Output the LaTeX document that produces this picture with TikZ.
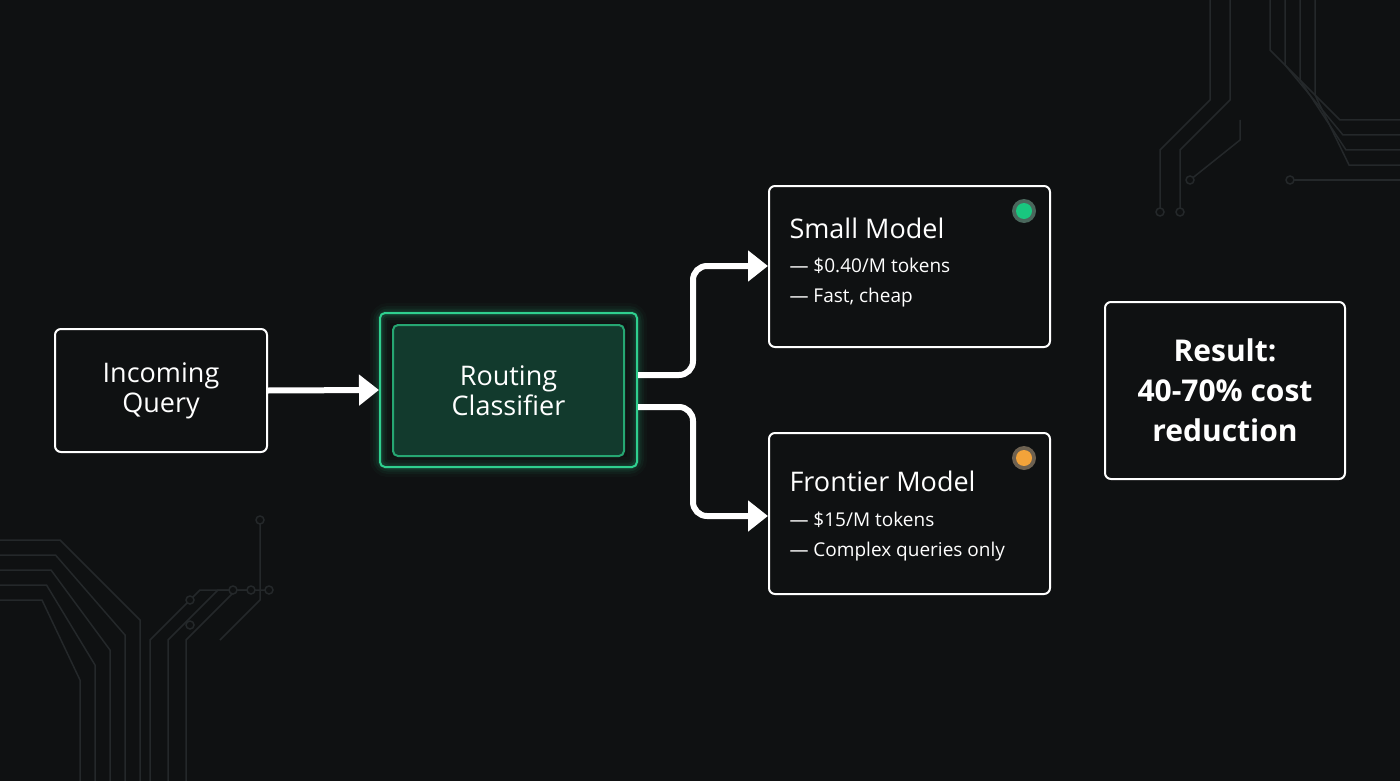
\documentclass[tikz,border=0pt]{standalone}
\usepackage{fontspec}
\setmainfont{Open Sans}
\usetikzlibrary{arrows.meta}
\definecolor{bg}{HTML}{0F1112}
\definecolor{grn}{HTML}{2FD08F}
\definecolor{grnfill}{HTML}{123A2D}
\definecolor{trace}{HTML}{24282A}
\definecolor{dotg}{HTML}{19C77F}
\definecolor{doto}{HTML}{F2A33A}
\begin{document}
\begin{tikzpicture}[x=1pt,y=-1pt,
 box/.style={draw=white,line width=2pt,rounded corners=6pt,fill=bg},
 ttl/.style={font=\fontsize{27}{32}\selectfont,text=white,align=center},
 sub/.style={font=\fontsize{19}{25}\selectfont,text=white,anchor=west},
 conn/.style={white,line width=6pt,rounded corners=14pt,-{Triangle[length=20pt,width=30pt]}},
 tr/.style={trace,line width=1.5pt}]
\fill[bg] (0,0) rectangle (1400,781);
\useasboundingbox (0,0) rectangle (1400,781);
% circuit traces
\foreach \d in {0,15,30,45,60}{
 \draw[tr] (0,540+\d) -- (60-\d*0.3,540+\d) -- (140-\d,620+\d) -- (140-\d,781);
}
\foreach \d in {0,18,36}{
 \draw[tr] (150+\d,781) -- (150+\d,640) -- (200+\d,590) -- (230+\d,590);
}
\draw[tr] (260,520) -- (260,600) -- (220,640);
\foreach \d in {0,15,30,45}{
 \draw[tr] (1400,120+\d) -- (1340+\d*0.2,120+\d) -- (1270+\d,50+\d) -- (1270+\d,0);
}
\foreach \d in {0,20}{
 \draw[tr] (1160+\d,210) -- (1160+\d,150) -- (1210+\d,100) -- (1210+\d,0);
}
\draw[tr] (1290,180) -- (1400,180);
\draw[tr] (1190,180) -- (1240,140) -- (1240,120);
\foreach \p in {(1160,212),(1180,212),(1190,180),(1290,180),(233,590),(251,590),(269,590),(190,600),(190,625),(260,520)}
 \draw[tr,fill=bg] \p circle (4);
% nodes
\node[box,minimum width=212pt,minimum height=123pt,ttl] (q) at (161,390.5) {Incoming\\[-2pt]Query};
\foreach \i/\o in {20/0.03,14/0.05,9/0.07,5/0.1}
 \draw[grn,opacity=\o,line width=\i pt,rounded corners=8pt] (380,313) rectangle (637,467);
\node[draw=grn,line width=2pt,rounded corners=5pt,minimum width=257pt,minimum height=154pt] (rc) at (508.5,390) {};
\node[draw=grn!80!black,fill=grnfill,line width=2pt,rounded corners=5pt,minimum width=231pt,minimum height=131pt,ttl] (rci) at (508.5,390.5) {Routing\\[-2pt]Classifier};
\node[box,minimum width=281pt,minimum height=161pt] (sm) at (909.5,266.5) {};
\node[box,minimum width=281pt,minimum height=161pt] (fm) at (909.5,513.5) {};
\node[box,minimum width=240pt,minimum height=177pt,align=center,text=white,font=\bfseries\fontsize{30}{40}\selectfont] (res) at (1225,390.5) {Result:\\40-70\% cost\\reduction};
\node[ttl,anchor=west] at (786,228) {Small Model};
\node[sub] at (786,266) {— \$0.40/M tokens};
\node[sub] at (786,298) {— Fast, cheap};
\node[ttl,anchor=west] at (786,481) {Frontier Model};
\node[sub] at (786,520) {— \$15/M tokens};
\node[sub] at (786,552) {— Complex queries only};
\fill[dotg!40,opacity=0.4] (1024,211) circle (12);
\fill[dotg] (1024,211) circle (8);
\fill[doto!40,opacity=0.4] (1024,458) circle (12);
\fill[doto] (1024,458) circle (8);
% connectors
\coordinate (a1) at (638,375);
\coordinate (a2) at (638,407);
\draw[conn] (q.east) -- (rc.west);
\draw[conn] (a1) -- (693,375) -- (693,266) -- (sm.west|-0,266);
\draw[conn] (a2) -- (693,407) -- (693,516) -- (fm.west|-0,516);
\end{tikzpicture}
\end{document}
